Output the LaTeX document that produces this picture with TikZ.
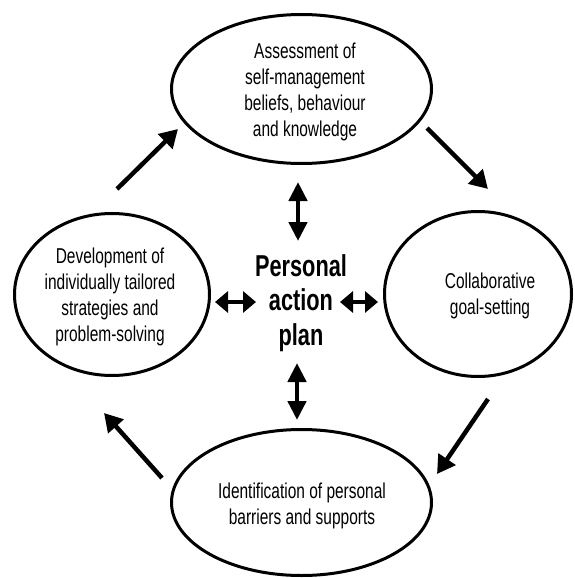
\documentclass[tikz,border=0pt]{standalone}
\usepackage{fontspec}
\setmainfont{Liberation Sans}[FakeStretch=0.72]
\usetikzlibrary{shapes.geometric,arrows.meta}
\begin{document}
\begin{tikzpicture}[x=1pt,y=-1pt,
  stage/.style={ellipse, draw=black, line width=3pt, inner sep=0pt},
  stagetext/.style={align=center, inner sep=0pt, font=\fontsize{21.5}{26}\selectfont},
  hubtext/.style={align=center, inner sep=0pt, font=\fontsize{30.2}{34.5}\selectfont\bfseries},
  flow/.style={line width=4.5pt, -{Triangle[length=18pt,width=20pt]}},
  linkv/.style={line width=4.5pt, {Triangle[length=19pt,width=18pt]}-{Triangle[length=19pt,width=18pt]}},
  linkh/.style={line width=4.5pt, {Triangle[length=13pt,width=21pt]}-{Triangle[length=13pt,width=21pt]}},
]
\useasboundingbox (0,0) rectangle (574,578);

% the four stages of the cycle
\node[stage, minimum width=260pt, minimum height=149pt] (assess) at (301.5,89) {};
\node[stage, minimum width=195pt, minimum height=162pt] (develop) at (112,294.5) {};
\node[stage, minimum width=187pt, minimum height=165pt] (collab) at (478,294) {};
\node[stage, minimum width=260pt, minimum height=146pt] (identify) at (301.5,502.5) {};

\node[stagetext] (assesstxt) at (305,91.9) {Assessment of\\self-management\\beliefs, behaviour\\and knowledge};
\node[stagetext] (developtxt) at (110,296.5) {Development of\\individually tailored\\strategies and\\problem-solving};
\node[stagetext] (collabtxt) at (490,296) {Collaborative\\goal-setting};
\node[stagetext] (identifytxt) at (302,506) {Identification of personal\\barriers and supports};

% central hub
\node[hubtext] (hub) at (301,302.7) {Personal\\action\\plan};

% end points of the connectors
\coordinate (tlA) at (117,189);  \coordinate (tlB) at (178,129);
\coordinate (trA) at (427,128);  \coordinate (trB) at (488,189);
\coordinate (brA) at (488,399);  \coordinate (brB) at (437,474);
\coordinate (blA) at (162,478);  \coordinate (blB) at (104,413);
\coordinate (hubN) at (298,182); \coordinate (assessS) at (298,241);
\coordinate (hubS) at (297,363); \coordinate (identN) at (297,420);
\coordinate (devE) at (215,302); \coordinate (hubW) at (256,302);
\coordinate (hubE) at (340,302); \coordinate (collW) at (378,302);

% clockwise flow between stages
\draw[flow] (tlA) -- (tlB);
\draw[flow] (trA) -- (trB);
\draw[flow] (brA) -- (brB);
\draw[flow] (blA) -- (blB);

% two-way links with the hub
\draw[linkv] (hubN) -- (assessS);
\draw[linkv] (hubS) -- (identN);
\draw[linkh] (devE) -- (hubW);
\draw[linkh] (hubE) -- (collW);
\end{tikzpicture}
\end{document}
